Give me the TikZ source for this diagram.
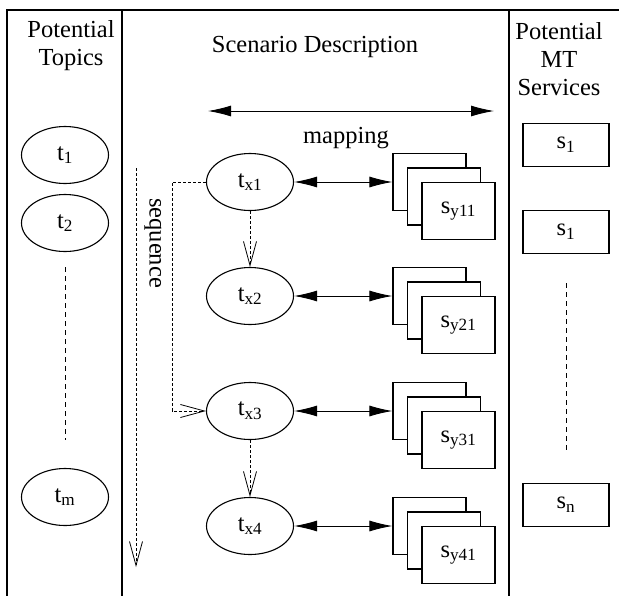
\documentclass[tikz,border=0pt]{standalone}
\usepackage{fontspec}
\setmainfont{Liberation Serif}
\usetikzlibrary{arrows.meta,shapes.geometric}

\tikzset{
  topic/.style={draw,ellipse,line width=1.1pt,minimum width=87pt,minimum height=57pt,inner sep=0pt},
  service/.style={draw,fill=white,line width=1.1pt,minimum width=73pt,minimum height=57pt,inner sep=0pt},
  mtbox/.style={draw,line width=1.1pt,minimum width=86pt,minimum height=43pt,inner sep=0pt},
  maparrow/.style={line width=0.9pt,{Latex[length=23pt,width=11pt]}-{Latex[length=23pt,width=11pt]}},
  seqarrow/.style={line width=0.8pt,dash pattern=on 3pt off 2pt,-{Straight Barb[length=24pt,width=13pt]}},
  dots/.style={line width=0.9pt,dash pattern=on 5pt off 4pt}
}

\begin{document}
\begin{tikzpicture}[x=1pt,y=-1pt,font=\fontsize{24.5}{28}\selectfont]
\clip (0,0) rectangle (619,595);
%frame and columns
\draw[line width=2pt] (7,620) -- (7,10) -- (640,10);
\draw[line width=2pt] (122,10) -- (122,620);
\draw[line width=2pt] (509,10) -- (509,620);
\node[align=center] (topics) at (71,46) {Potential\\Topics};
\node (scenario) at (315,47) {Scenario Description};
\node[align=center] (services) at (559,59) {Potential\\MT\\Services};
%potential topics
\node[topic] (t1) at (65,155) {t\textsubscript{1}};
\node[topic] (t2) at (65,223) {t\textsubscript{2}};
\node[topic] (tm) at (65,497) {t\textsubscript{m}};
\coordinate (ta) at (65,267);
\coordinate (tb) at (65,440);
\draw[dots] (ta) -- (tb);
%potential services
\node[mtbox] (s1) at (566,145) {s\textsubscript{1}};
\node[mtbox] (s2) at (566,232) {s\textsubscript{1}};
\node[mtbox] (sn) at (566,505) {s\textsubscript{n}};
\coordinate (sa) at (566,283);
\coordinate (sb) at (566,453);
\draw[dots] (sa) -- (sb);
%mapping
\coordinate (mapl) at (208,111);
\coordinate (mapr) at (494,111);
\draw[maparrow] (mapl) -- (mapr);
\node (mapping) at (346,138) {mapping};
%scenario topics and their services
\foreach \i/\y in {1/182,2/296,3/411,4/526}{
  \node[topic] (tx\i) at (250,\y) {t\textsubscript{x\i}};
  \node[service] (sy\i c) at (429.5,\y) {};
  \node[service] (sy\i b) at (444,\y+14.5) {};
  \node[service] (sy\i) at (458.5,\y+29) {\raisebox{-6pt}{s\textsubscript{y\i 1}}};
  \draw[maparrow] (tx\i.east) -- (sy\i c.west);
}
%sequence
\coordinate (qa) at (136,168);
\coordinate (qb) at (136,567);
\draw[seqarrow] (qa) -- (qb);
\node[rotate=-90] (sequence) at (153,243) {sequence};
\draw[seqarrow] (tx1.south) -- (tx2.north);
\draw[seqarrow] (tx3.south) -- (tx4.north);
\draw[seqarrow] (tx1.west) -| (172,350) |- (tx3.west);
\end{tikzpicture}
\end{document}
